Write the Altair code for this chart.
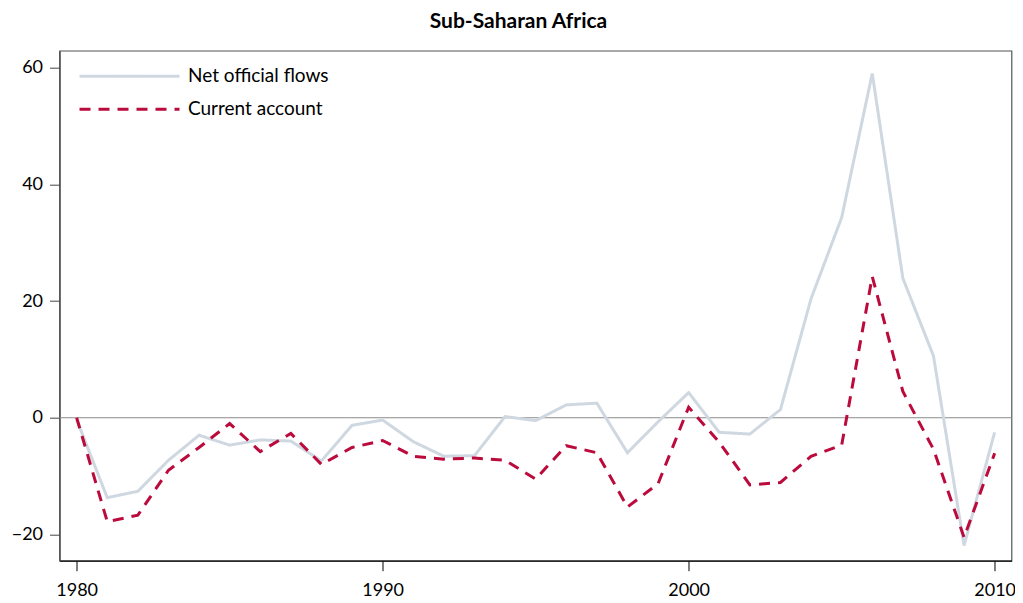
import altair as alt
import pandas as pd

years = list(range(1980, 2011))
net_official = [-0.3, -13.7, -12.6, -7.3, -3.0, -4.7, -3.8, -4.0, -7.4, -1.3,
                -0.4, -4.1, -6.6, -6.5, 0.2, -0.5, 2.2, 2.5, -6.0, -0.7,
                4.3, -2.5, -2.8, 1.4, 20.4, 34.3, 59.0, 23.9, 10.6, -21.9, -2.5]
current_account = [0.0, -17.8, -16.7, -9.0, -5.1, -1.0, -5.8, -2.7, -8.0, -5.1,
                   -3.9, -6.6, -7.1, -6.9, -7.3, -10.5, -4.8, -6.0, -15.3, -11.3,
                   1.8, -4.2, -11.5, -11.1, -6.6, -4.7, 24.2, 4.5, -5.4, -20.5, -6.1]
series_names = ["Net official flows", "Current account"]
x_ticks = [1980, 1990, 2000, 2010]
y_ticks = [-20, 0, 20, 40, 60]
title_text = "Sub-Saharan Africa"

rows = []
for name, vals in zip(series_names, [net_official, current_account]):
    for yr, v in zip(years, vals):
        rows.append({"year": yr, "value": v, "series": name})
df = pd.DataFrame(rows)

FONT = "Lato"

xscale = alt.Scale(domain=[1979.44, 2010.55], nice=False, zero=False)
yscale = alt.Scale(domain=[-24.5, 62.9], nice=False, zero=False)

zero = alt.Chart(pd.DataFrame({"y": [0]})).mark_rule(color="#8a8a8a", strokeWidth=1.2).encode(
    y=alt.Y("y:Q", scale=yscale)
)

title = alt.Chart(pd.DataFrame({"t": [title_text]})).mark_text(
    font=FONT, fontSize=21, fontWeight="bold", color="black",
    align="center", baseline="alphabetic"
).encode(text="t:N", x=alt.value(459), y=alt.value(-23))

lines = alt.Chart(df).mark_line(strokeWidth=3, clip=True).encode(
    x=alt.X("year:Q", scale=xscale,
            axis=alt.Axis(values=x_ticks, format="d", title=None, grid=False,
                          tickSize=10, tickColor="black", domainColor="black",
                          labelFontSize=18, labelFont=FONT, labelColor="black",
                          labelPadding=11, domainWidth=1.2)),
    y=alt.Y("value:Q", scale=yscale,
            axis=alt.Axis(values=y_ticks, title=None, grid=False,
                          tickSize=10, tickColor="#444", domainColor="#444",
                          labelFontSize=18, labelFont=FONT, labelColor="black",
                          labelPadding=7, domainWidth=1.2)),
    color=alt.Color("series:N",
                    scale=alt.Scale(domain=series_names, range=["#cfd8e1", "#bb0a3c"]),
                    legend=alt.Legend(title=None, orient="none", legendX=18.5, legendY=9,
                                      symbolType="stroke", symbolSize=10000,
                                      symbolStrokeWidth=3, clipHeight=33,
                                      rowPadding=0, padding=0, symbolOffset=0,
                                      labelOffset=7, labelFontSize=19, labelFont=FONT,
                                      labelColor="black", labelLimit=400)),
    strokeDash=alt.StrokeDash("series:N",
                              scale=alt.Scale(domain=series_names, range=[[1, 0], [11, 8]]),
                              legend=None),
    order=alt.Order("year:Q"),
)

chart = alt.layer(zero, lines, title).properties(
    width=952, height=510,
    autosize=alt.AutoSizeParams(type="none"),
    padding={"left": 51.5, "top": 42.7, "right": 3.5, "bottom": 40},
).configure_view(stroke="#555", strokeWidth=1.2)

chart.save("out.html", embed_options={"renderer": "svg", "actions": False})
